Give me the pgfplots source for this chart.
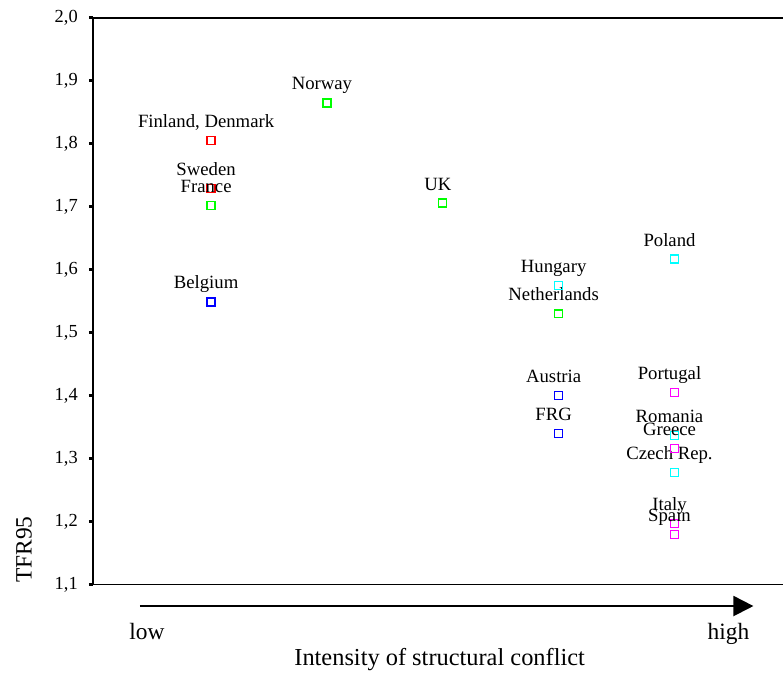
\documentclass[border=0pt]{standalone}
\usepackage{pgfplots}
\pgfplotsset{compat=1.18}
\usepackage{fontspec}
\setmainfont{Liberation Serif}
\usetikzlibrary{arrows.meta,calc}

\definecolor{pRed}{RGB}{255,0,0}
\definecolor{pGreen}{RGB}{0,255,0}
\definecolor{pBlue}{RGB}{0,0,255}
\definecolor{pCyan}{RGB}{0,255,255}
\definecolor{pMagenta}{RGB}{255,0,255}

\pgfplotsset{
  country/.style={only marks, mark=square, mark size=4bp,
    mark options={draw=#1, line width=1.3bp}},
}

\begin{document}
\begin{tikzpicture}[x=1bp,y=1bp]
\begin{axis}[
  scale only axis,
  width=691bp, height=567bp,
  xmin=-0.02, xmax=5.94,
  ymin=1.1, ymax=2.0,
  axis x line*=box, axis y line*=left,
  axis line style={line width=1.2bp, black},
  xtick=\empty,
  ytick={1.1,1.2,1.3,1.4,1.5,1.6,1.7,1.8,1.9,2.0},
  ytick pos=left,
  tick align=outside,
  major tick length=4bp,
  tick style={line width=3bp, black},
  yticklabel style={font=\fontsize{18.5}{20}\selectfont, inner sep=0pt, xshift=-11bp,
    /pgf/number format/.cd, use comma, fixed, fixed zerofill, precision=1,
    assume math mode=true},
  clip=false,
  nodes near coords,
  point meta=explicit symbolic,
  every node near coord/.append style={anchor=base, yshift=13bp, xshift=-5bp,
    inner sep=0pt, text=black, font=\fontsize{18.8}{20}\selectfont},
]
\addplot[country=pRed] coordinates {
  (1,1.805) [Finland, Denmark]
  (1,1.729) [Sweden]
};
\addplot[country=pGreen] coordinates {
  (2,1.865) [Norway]
  (1,1.702) [France]
  (3,1.706) [UK]
  (4,1.530) [Netherlands]
};
\addplot[country=pBlue] coordinates {
  (1,1.549) [Belgium]
  (4,1.400) [Austria]
  (4,1.340) [FRG]
};
\addplot[country=pCyan] coordinates {
  (5,1.617) [Poland]
  (4,1.575) [Hungary]
  (5,1.337) [Romania]
  (5,1.278) [Czech Rep.]
};
\addplot[country=pMagenta] coordinates {
  (5,1.405) [Portugal]
  (5,1.316) [Greece]
  (5,1.197) [Italy]
  (5,1.179) [Spain]
};
\coordinate (SW) at (rel axis cs:0,0);
\coordinate (NE) at (rel axis cs:1,1);
\end{axis}
\draw[line width=2bp, -{Triangle[length=20bp,width=20bp]}]
  ($(SW)+(47,-21.5)$) -- ($(SW)+(661,-21.5)$);
\node[anchor=base, inner sep=0pt, font=\fontsize{23.5}{25}\selectfont] at ($(SW)+(54,-55)$) {low};
\node[anchor=base, inner sep=0pt, font=\fontsize{23.5}{25}\selectfont] at ($(SW)+(636,-55)$) {high};
\node[anchor=base, inner sep=0pt, font=\fontsize{24.5}{26}\selectfont] at ($(SW)+(347,-81)$) {Intensity of structural conflict};
\node[rotate=90, inner sep=0pt, font=\fontsize{23.5}{25}\selectfont] at ($(SW)+(-69,35)$) {TFR95};
\path ($(SW)+(-93,-90)$) rectangle ($(NE)+(0,18)$);
\end{tikzpicture}
\end{document}
